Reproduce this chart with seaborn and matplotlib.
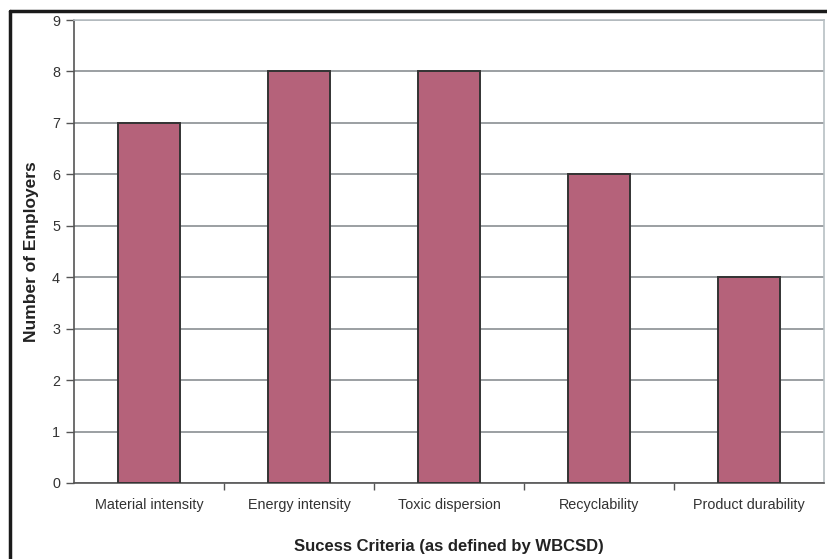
import matplotlib
matplotlib.use("Agg")
import matplotlib.pyplot as plt
import seaborn as sns
import pandas as pd
from matplotlib.lines import Line2D

categories = ["Material intensity", "Energy intensity", "Toxic dispersion",
              "Recyclability", "Product durability"]
employers = [7, 8, 8, 6, 4]
y_ticks = [0, 1, 2, 3, 4, 5, 6, 7, 8, 9]

df = pd.DataFrame({"criteria": categories, "count": employers})

sns.set_theme(style="white")
plt.rcParams["font.family"] = ["Liberation Sans", "DejaVu Sans"]

fig = plt.figure(figsize=(8.28, 5.59), dpi=100)
ax = fig.add_axes([74 / 828, 1 - 483 / 559, 750 / 828, 463 / 559])

sns.barplot(data=df, x="criteria", y="count", ax=ax, color="#B5627A",
            saturation=1, width=0.41, edgecolor="#333333", linewidth=1.4,
            zorder=3)

ax.set_ylim(0, 9)
ax.set_xlim(-0.5, len(categories) - 0.5)
ax.set_yticks(y_ticks)
ax.yaxis.grid(True, color="#8a8f92", linewidth=1.2, zorder=0)
ax.set_axisbelow(True)

ax.tick_params(axis="y", which="major", direction="out", length=6, width=1,
               color="#555555", labelsize=10.4, labelcolor="#333333", pad=4,
               left=True)
ax.tick_params(axis="x", which="major", length=0, labelsize=10.4,
               labelcolor="#333333", pad=11)
# category separators on the x axis
ax.set_xticks([i + 0.5 for i in range(len(categories) - 1)], minor=True)
ax.tick_params(axis="x", which="minor", direction="out", length=5, width=1,
               color="#555555", bottom=True)

for side in ["left", "bottom"]:
    ax.spines[side].set_color("#555555")
    ax.spines[side].set_linewidth(1.2)
for side in ["top", "right"]:
    ax.spines[side].set_visible(True)
    ax.spines[side].set_color("#b8c0c4")
    ax.spines[side].set_linewidth(1.2)

ax.set_xlabel("Sucess Criteria (as defined by WBCSD)", fontsize=12,
              fontweight="bold", color="#222222", labelpad=19)
ax.set_ylabel("Number of Employers", fontsize=12.5, fontweight="bold",
              color="#222222", labelpad=9)

# outer chart-area frame along the left and top edges
fig.add_artist(Line2D([9.5 / 828, 9.5 / 828], [0, 1 - 11 / 559],
                      transform=fig.transFigure, color="#1a1a1a", linewidth=2.5))
fig.add_artist(Line2D([9.5 / 828, 1], [1 - 11 / 559, 1 - 11 / 559],
                      transform=fig.transFigure, color="#1a1a1a", linewidth=2.5))

fig.savefig("out.png", dpi=100)
